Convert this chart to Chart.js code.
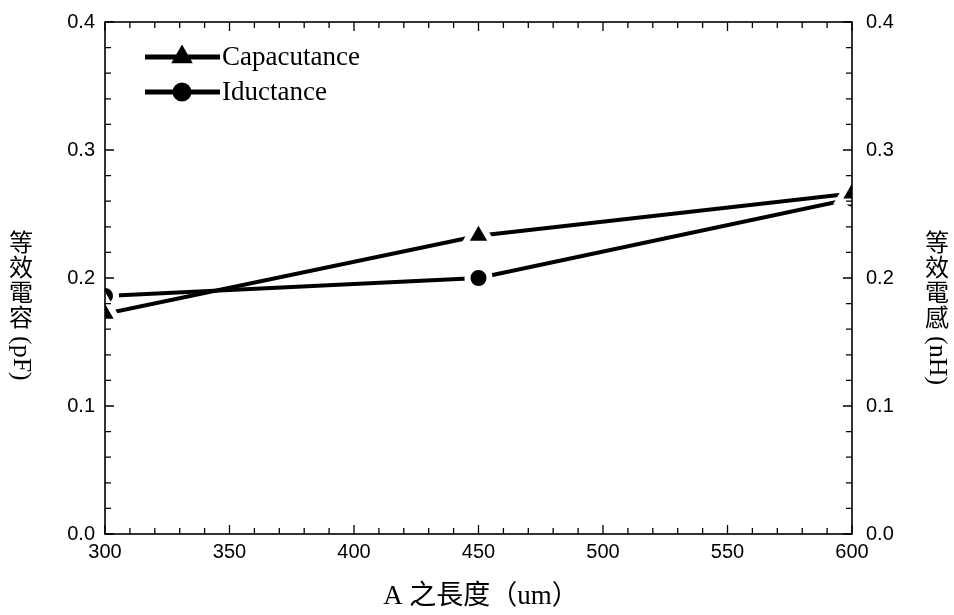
<!DOCTYPE html>
<html>
<head>
<meta charset="utf-8">
<script src="https://cdn.jsdelivr.net/npm/chart.js@4.4.1/dist/chart.umd.min.js"></script>
<style>
  html, body { margin: 0; padding: 0; background: #fff; }
  #wrap { width: 954px; height: 615px; }
</style>
</head>
<body>
<div id="wrap"><canvas id="chart" width="954" height="615"></canvas></div>
<script>
const LENGTHS = [300, 450, 600];
const CAPACITANCE = [0.172, 0.233, 0.266];
const INDUCTANCE = [0.186, 0.200, 0.262];
const SERIES_NAMES = ["Capacutance", "Iductance"];
const X_TITLE = "A 之長度（um）";
const Y_LEFT_TITLE = ["等效電容", "(pF)"];
const Y_RIGHT_TITLE = ["等效電感", "(nH)"];

const TICK_FONT = { family: "'Liberation Sans', Arial, sans-serif", size: 20 };
const SERIF = "'Liberation Serif', 'Noto Sans CJK TC', serif";

// draw the frame and the inward ticks after the data so marker halos don't hide the axes
const framePlugin = {
  id: "frame",
  afterDatasetsDraw(chart) {
    const { ctx, chartArea: a, scales } = chart;
    ctx.save();
    ctx.strokeStyle = "#000";
    ctx.lineWidth = 1.6;
    ctx.strokeRect(a.left, a.top, a.right - a.left, a.bottom - a.top);

    ctx.lineWidth = 1.3;
    const x = scales.x;
    for (let v = 300; v <= 600; v += 10) {
      const px = x.getPixelForValue(v);
      const len = v % 50 === 0 ? 9 : 6;
      ctx.beginPath();
      ctx.moveTo(px, a.bottom); ctx.lineTo(px, a.bottom - len);
      ctx.moveTo(px, a.top); ctx.lineTo(px, a.top + len);
      ctx.stroke();
    }
    const y = scales.y;
    for (let i = 0; i <= 20; i++) {
      const py = y.getPixelForValue(i * 0.02);
      const len = i % 5 === 0 ? 9 : 6;
      ctx.beginPath();
      ctx.moveTo(a.left, py); ctx.lineTo(a.left + len, py);
      ctx.moveTo(a.right, py); ctx.lineTo(a.right - len, py);
      ctx.stroke();
    }
    ctx.restore();
  },
  afterDraw(chart) {
    const { ctx } = chart;
    ctx.save();
    ctx.fillStyle = "#000";

    // legend
    chart.data.datasets.forEach((ds, i) => {
      const ly = 57 + i * 35;
      ctx.strokeStyle = "#000";
      ctx.lineWidth = 5;
      ctx.beginPath();
      ctx.moveTo(145, ly); ctx.lineTo(220, ly);
      ctx.stroke();
      Chart.helpers.drawPoint(ctx, {
        pointStyle: ds.pointStyle, radius: ds.pointStyle === "triangle" ? 7.5 : 7,
        borderWidth: 1, rotation: 0
      }, 182, ly);
      ctx.fill();
      ctx.font = "27px " + SERIF;
      ctx.textAlign = "left";
      ctx.textBaseline = "middle";
      ctx.fillText(ds.label, 222, ly + 1);
    });

    // x title
    ctx.font = "27px " + SERIF;
    ctx.textAlign = "center";
    ctx.textBaseline = "middle";
    ctx.fillText(X_TITLE, 481, 597);

    // vertical y titles: CJK upright, latin turned clockwise
    const vtitle = (parts, cx, top) => {
      ctx.font = "24px " + SERIF;
      ctx.textAlign = "center";
      ctx.textBaseline = "middle";
      let yy = top;
      for (const ch of parts[0]) {
        ctx.fillText(ch, cx, yy + 12);
        yy += 25;
      }
      ctx.save();
      ctx.translate(cx, yy + 3);
      ctx.rotate(Math.PI / 2);
      ctx.textAlign = "left";
      ctx.font = "26px " + SERIF;
      ctx.fillText(parts[1], 0, 0);
      ctx.restore();
    };
    vtitle(Y_LEFT_TITLE, 21, 233);
    vtitle(Y_RIGHT_TITLE, 937, 233);
    ctx.restore();
  }
};

const noPad = (s) => { s.paddingTop = 0; s.paddingBottom = 0; s.paddingLeft = 0; s.paddingRight = 0; };

const ctx = document.getElementById("chart");
new Chart(ctx, {
  type: "line",
  data: {
    datasets: [
      {
        label: SERIES_NAMES[0],
        data: LENGTHS.map((v, i) => ({ x: v, y: CAPACITANCE[i] })),
        yAxisID: "y",
        borderColor: "#000",
        borderWidth: 4,
        pointStyle: "triangle",
        pointRadius: 16,
        pointBorderWidth: 6,
        pointBackgroundColor: "#000",
        pointBorderColor: "#fff",
        clip: 0,
      },
      {
        label: SERIES_NAMES[1],
        data: LENGTHS.map((v, i) => ({ x: v, y: INDUCTANCE[i] })),
        yAxisID: "y1",
        borderColor: "#000",
        borderWidth: 4,
        pointStyle: "circle",
        pointRadius: 11,
        pointBorderWidth: 6,
        pointBackgroundColor: "#000",
        pointBorderColor: "#fff",
        clip: 0,
      },
    ],
  },
  options: {
    responsive: false,
    animation: false,
    layout: { padding: { top: 20, left: 0, right: 0, bottom: 0 } },
    plugins: {
      legend: { display: false },
      tooltip: { enabled: false },
    },
    scales: {
      x: {
        type: "linear",
        min: 300,
        max: 600,
        ticks: { stepSize: 50, color: "#000", font: TICK_FONT, padding: 6 },
        grid: { display: false, drawTicks: false },
        border: { display: false },
        afterFit: (s) => { s.height = 81; noPad(s); },
      },
      y: {
        position: "left",
        min: 0,
        max: 0.4,
        ticks: {
          stepSize: 0.1, color: "#000", font: TICK_FONT, padding: 10,
          callback: (v) => Number(v).toFixed(1),
        },
        grid: { display: false, drawTicks: false },
        border: { display: false },
        afterFit: (s) => { s.width = 105; noPad(s); },
      },
      y1: {
        position: "right",
        min: 0,
        max: 0.4,
        ticks: {
          stepSize: 0.1, color: "#000", font: TICK_FONT, padding: 14,
          callback: (v) => Number(v).toFixed(1),
        },
        grid: { display: false, drawTicks: false },
        border: { display: false },
        afterFit: (s) => { s.width = 102; noPad(s); },
      },
    },
  },
  plugins: [framePlugin],
});
</script>
</body>
</html>
